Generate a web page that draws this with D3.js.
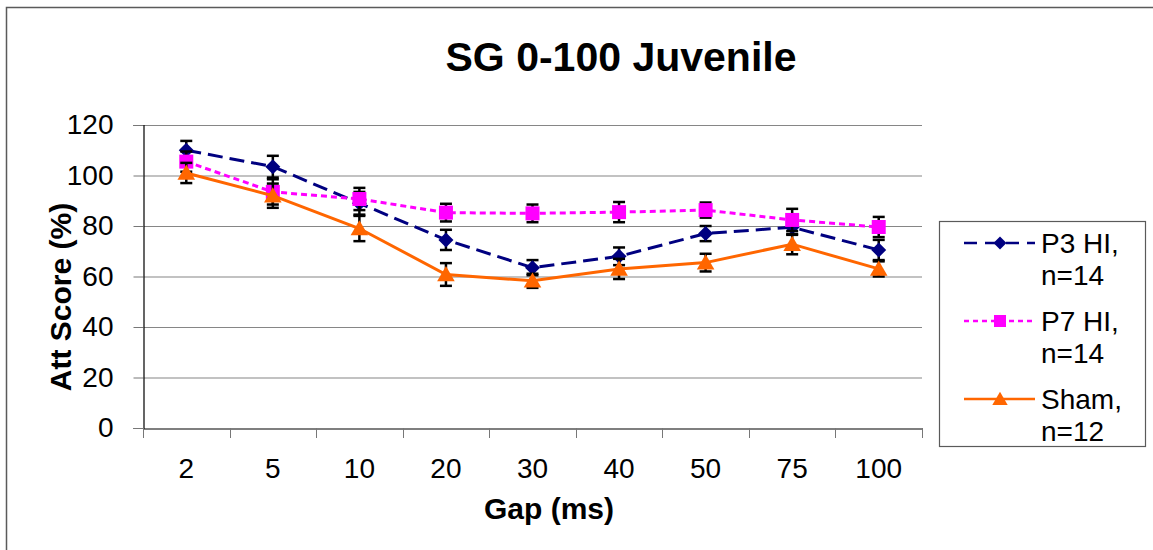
<!DOCTYPE html>
<html>
<head>
<meta charset="utf-8">
<script src="https://cdn.jsdelivr.net/npm/d3@7"></script>
<style>
  body { margin: 0; background: #fff; }
  svg text { font-family: "Liberation Sans", Arial, Helvetica, sans-serif; fill: #000; }
</style>
</head>
<body>
<svg id="chart"></svg>
<script>
// data
const gaps = ["2", "5", "10", "20", "30", "40", "50", "75", "100"];
const yTicks = [0, 20, 40, 60, 80, 100, 120];

const p3Values = [110, 103.5, 89, 74.5, 63.5, 68, 77, 79.5, 70.5];
const p3Errors = [3.7, 4.3, 4.5, 4, 3, 3.5, 3, 3, 4];
const p7Values = [105.5, 93.5, 90.7, 85.3, 85, 85.5, 86.3, 82.4, 79.6];
const p7Errors = [4, 5, 4.4, 3.5, 3.5, 4, 3, 4.4, 4];
const shamValues = [101, 92, 79, 60.8, 58.3, 63, 65.5, 72.8, 63];
const shamErrors = [4, 4.8, 5, 4.5, 2.8, 4, 3.5, 4, 3];

const seriesNames = [["P3 HI,", "n=14"], ["P7 HI,", "n=14"], ["Sham,", "n=12"]];

const series = [
  { name: seriesNames[0], values: p3Values, errors: p3Errors, color: "#000080", dash: "15,7", marker: "diamond" },
  { name: seriesNames[1], values: p7Values, errors: p7Errors, color: "#ff00ff", dash: "6,4", marker: "square" },
  { name: seriesNames[2], values: shamValues, errors: shamErrors, color: "#ff6600", dash: null, marker: "triangle" }
];

const width = 1153, height = 550;
const plot = { left: 143, right: 922, top: 125, bottom: 428 };

const svg = d3.select("#chart")
    .attr("width", width)
    .attr("height", height);

// outer chart border
svg.append("rect")
    .attr("x", 6.5).attr("y", 7.5)
    .attr("width", 1170).attr("height", 570)
    .attr("fill", "#fff")
    .attr("stroke", "#5a5a5a")
    .attr("stroke-width", 1.5);

const x = d3.scaleBand()
    .domain(gaps)
    .range([plot.left, plot.right]);

const y = d3.scaleLinear()
    .domain([0, 120])
    .range([plot.bottom, plot.top]);

// gridlines
svg.append("g")
  .selectAll("line")
  .data(yTicks.filter(d => d > 0))
  .join("line")
    .attr("x1", plot.left).attr("x2", plot.right)
    .attr("y1", d => y(d) + 0.5).attr("y2", d => y(d) + 0.5)
    .attr("stroke", "#868686")
    .attr("stroke-width", 1.2);

// y axis
const yAxis = d3.axisLeft(y).tickValues(yTicks).tickSize(10).tickPadding(20);
svg.append("g")
    .attr("transform", `translate(${plot.left + 0.5},0)`)
    .call(yAxis)
    .call(g => g.select(".domain").attr("stroke", "#000").attr("stroke-width", 1.2))
    .call(g => g.selectAll(".tick line").attr("stroke", "#777"))
    .call(g => g.selectAll("text")
        .style("font-size", "28px")
        .attr("fill", "#000"));

// x axis: labels centred in bands, ticks at band edges
const xAxis = d3.axisBottom(x).tickSize(0).tickPadding(0);
svg.append("g")
    .attr("transform", `translate(0,${plot.bottom + 0.5})`)
    .call(xAxis)
    .call(g => g.select(".domain").attr("stroke", "#000").attr("stroke-width", 1.2))
    .call(g => g.selectAll("text")
        .attr("y", 49)
        .attr("dy", null)
        .style("font-size", "28px")
        .attr("fill", "#000"));

svg.append("g")
  .selectAll("line")
  .data(gaps.map(d => x(d)).concat([plot.right]))
  .join("line")
    .attr("x1", d => Math.round(d) + 0.5).attr("x2", d => Math.round(d) + 0.5)
    .attr("y1", plot.bottom).attr("y2", plot.bottom + 10)
    .attr("stroke", "#777");

// marker shapes
function markerPath(type, s) {
  if (type === "diamond") return `M0,${-s}L${s},0L0,${s}L${-s},0Z`;
  if (type === "square") return `M${-s},${-s}H${s}V${s}H${-s}Z`;
  return `M0,${-s * 1.05}L${s * 1.1},${s * 0.85}L${-s * 1.1},${s * 0.85}Z`;
}
const markerSize = { diamond: 7.5, square: 7, triangle: 8 };

const cx = d => x(d) + x.bandwidth() / 2;

series.forEach(s => {
  const g = svg.append("g");
  const line = d3.line()
      .x((d, i) => cx(gaps[i]))
      .y(d => y(d));

  g.append("path")
      .datum(s.values)
      .attr("d", line)
      .attr("fill", "none")
      .attr("stroke", s.color)
      .attr("stroke-width", 3)
      .attr("stroke-dasharray", s.dash);

  // error bars
  const eb = g.append("g").attr("stroke", "#000").attr("stroke-width", 2.5);
  s.values.forEach((v, i) => {
    const px = cx(gaps[i]);
    const top = y(v + s.errors[i]), bot = y(v - s.errors[i]);
    eb.append("line").attr("x1", px).attr("x2", px).attr("y1", top).attr("y2", bot);
    eb.append("line").attr("x1", px - 6).attr("x2", px + 6).attr("y1", top).attr("y2", top);
    eb.append("line").attr("x1", px - 6).attr("x2", px + 6).attr("y1", bot).attr("y2", bot);
  });

  g.selectAll("path.mark")
    .data(s.values)
    .join("path")
      .attr("class", "mark")
      .attr("transform", (d, i) => `translate(${cx(gaps[i])},${y(d)})`)
      .attr("d", markerPath(s.marker, markerSize[s.marker]))
      .attr("fill", s.color);
});

// titles
svg.append("text")
    .attr("x", 621).attr("y", 71)
    .attr("text-anchor", "middle")
    .style("font-size", "41px")
    .style("font-weight", "bold")
    .text("SG 0-100 Juvenile");

svg.append("text")
    .attr("x", 549).attr("y", 519)
    .attr("text-anchor", "middle")
    .style("font-size", "30px")
    .style("font-weight", "bold")
    .text("Gap (ms)");

svg.append("text")
    .attr("transform", "translate(71,297) rotate(-90)")
    .attr("text-anchor", "middle")
    .style("font-size", "30px")
    .style("font-weight", "bold")
    .text("Att Score (%)");

// legend
const legend = svg.append("g");
legend.append("rect")
    .attr("x", 939.5).attr("y", 221.5)
    .attr("width", 206).attr("height", 225)
    .attr("fill", "#fff")
    .attr("stroke", "#5a5a5a")
    .attr("stroke-width", 1.2);

series.forEach((s, i) => {
  const ly = 243 + i * 78;
  const item = legend.append("g");
  item.append("line")
      .attr("x1", 964).attr("x2", 1035)
      .attr("y1", ly).attr("y2", ly)
      .attr("stroke", s.color)
      .attr("stroke-width", 2.5)
      .attr("stroke-dasharray", s.dash ? (s.marker === "diamond" ? "13,8" : "5,4") : null);
  item.append("path")
      .attr("transform", `translate(1000,${ly})`)
      .attr("d", markerPath(s.marker, markerSize[s.marker] - 1))
      .attr("fill", s.color);
  item.selectAll("text")
    .data(s.name)
    .join("text")
      .attr("x", 1041)
      .attr("y", (d, j) => ly + 10 + j * 32)
      .style("font-size", "28px")
      .text(d => d);
});
</script>
</body>
</html>
